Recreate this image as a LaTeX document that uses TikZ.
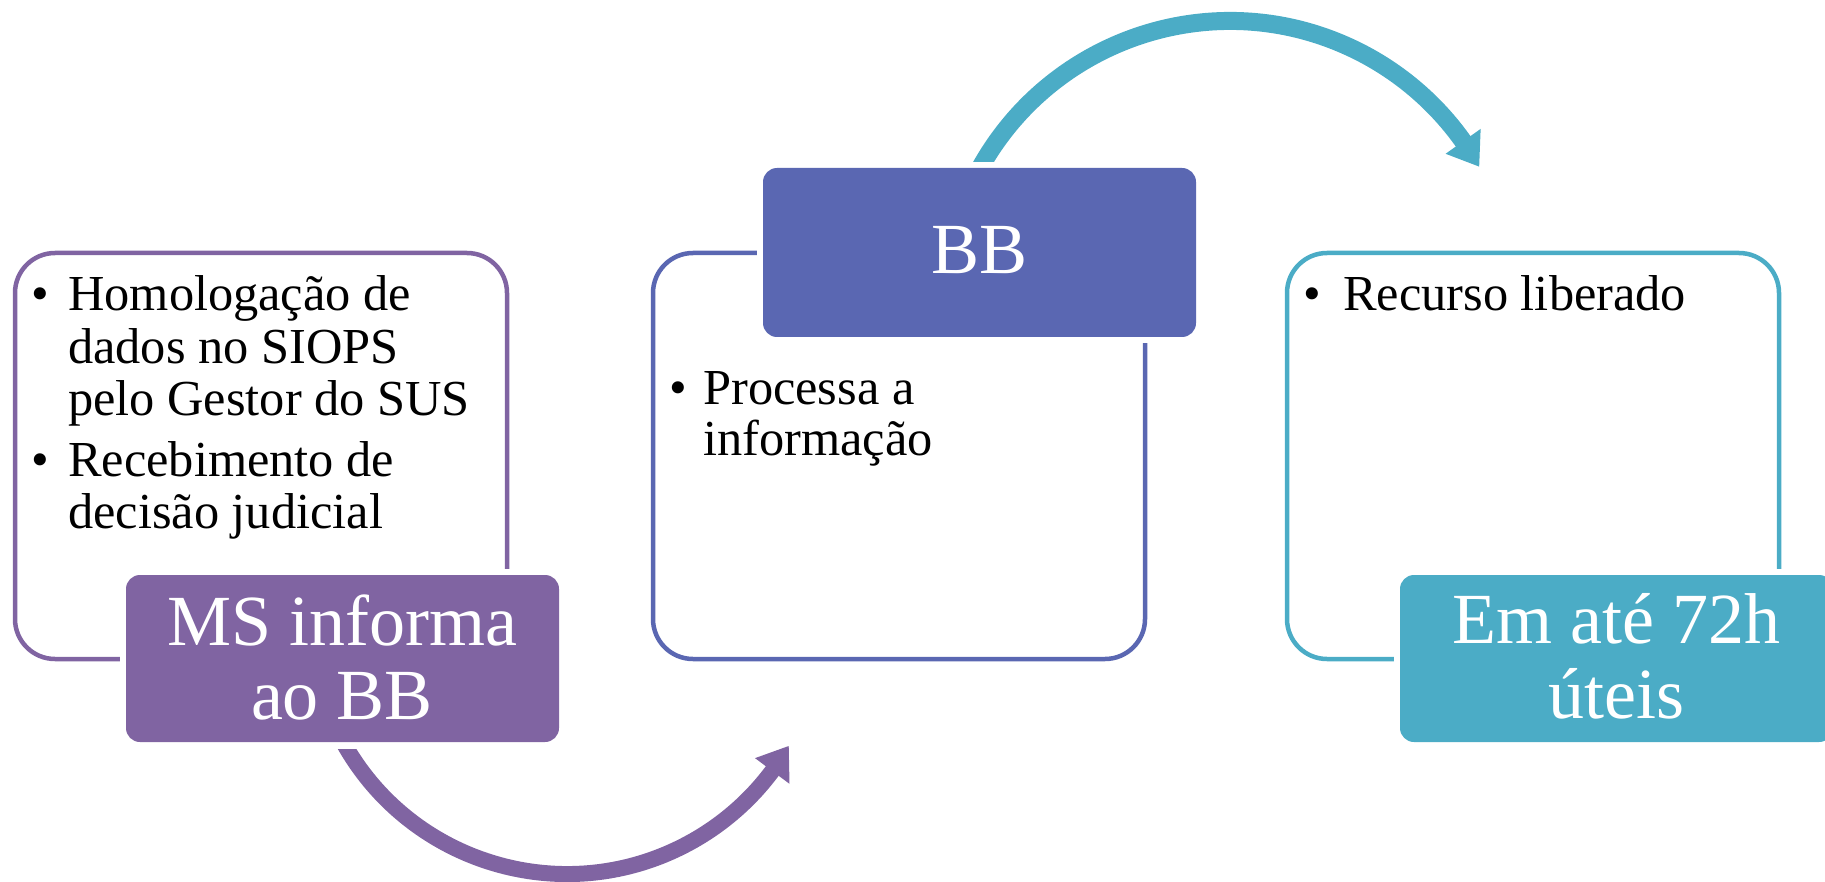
\documentclass[tikz,border=0pt]{standalone}
\usepackage{fontspec}
\setmainfont{Liberation Serif}
\usetikzlibrary{calc}
\definecolor{cpurple}{HTML}{8064A2}
\definecolor{cblue}{HTML}{5A67B2}
\definecolor{cteal}{HTML}{4BACC6}
\begin{document}
\begin{tikzpicture}[x=1pt,y=-1pt,
  outline/.style={draw=#1, line width=4.5pt, rounded corners=40pt, minimum width=492, minimum height=406, anchor=north west, inner sep=0, outer sep=0},
  filled/.style={fill=#1, rounded corners=14pt, preaction={draw=white, line width=12pt}, minimum width=433, minimum height=167, anchor=north west, inner sep=0, outer sep=0},
  bul/.style={anchor=base west, inner sep=0, font=\fontsize{50.4}{51.7}\selectfont},
  big/.style={anchor=base, inner sep=0, text=white, font=\fontsize{72}{74.5}\selectfont},
  arcline/.style={draw=#1, line cap=butt}]
\useasboundingbox (0,0) rectangle (1825,882);
\clip (0,0) rectangle (1825,882);
% outline boxes
\node[outline=cpurple] (o1) at (15,253) {};
\node[outline=cblue] (o2) at (653,253) {};
\node[outline=cteal] (o3) at (1287,253) {};
% filled boxes
\node[filled=cpurple] (f1) at (126,575) {};
\node[filled=cblue, minimum height=169] (f2) at (763,168) {};
\node[filled=cteal] (f3) at (1400,575) {};
% left texts
\node[bul] (l1b) at (31,311) {•};
\node[bul] (l1) at (68,311) {Homologação de};
\node[bul] (l2) at (68,363) {dados no SIOPS};
\node[bul] (l3) at (68,415) {pelo Gestor do SUS};
\node[bul] (l4b) at (31,476) {•};
\node[bul] (l4) at (68,476) {Recebimento de};
\node[bul] (l5) at (68,528) {decisão judicial};
% middle texts
\node[bul] (m1b) at (669,404) {•};
\node[bul] (m1) at (703,404) {Processa a};
\node[bul] (m2) at (703,455) {informação};
% right texts
\node[bul] (r1b) at (1303,311) {•};
\node[bul] (r1) at (1343,311) {Recurso liberado};
% big texts
\node[big] (t1) at (342,645) {MS informa};
\node[big] (t2) at (342,719) {ao BB};
\node[big] (t3) at (979.5,274) {BB};
\node[big] (t4) at (1616,643) {Em até 72h};
\node[big] (t5) at (1616,718) {úteis};
% bottom arrow
\coordinate (c1) at (567,618);
\begin{scope}
\clip (0,749) rectangle (1825,882);
\draw[arcline=cpurple, line width=16pt] ($(c1)+(152:256)$) arc[start angle=152, end angle=36, radius=256];
\end{scope}
\fill[cpurple] ($(c1)+(36.7:234.5)$) -- ($(c1)+(30:256)$) -- ($(c1)+(36.7:277.5)$) -- cycle;
% top arrow
\coordinate (c2) at (1230,307);
\begin{scope}
\clip (0,0) rectangle (1825,162);
\draw[arcline=cteal, line width=18pt] ($(c2)+(205:286)$) arc[start angle=205, end angle=325.2, radius=286];
\end{scope}
\fill[cteal] ($(c2)+(324.6:264.5)$) -- ($(c2)+(330.6:286)$) -- ($(c2)+(324.6:307.5)$) -- cycle;
\end{tikzpicture}
\end{document}
